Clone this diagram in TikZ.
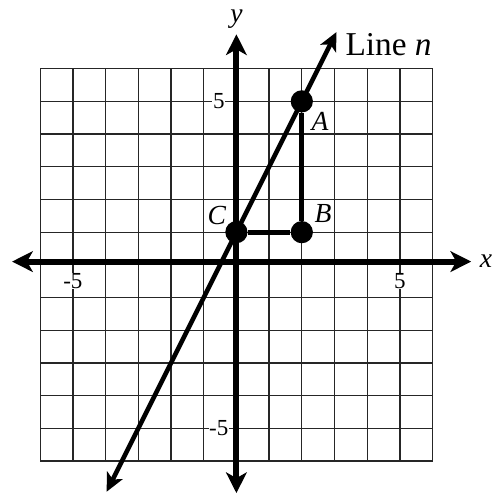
\documentclass[tikz,border=0pt]{standalone}
\usepackage{fontspec}
\setmainfont{Liberation Serif}
\usetikzlibrary{arrows.meta,positioning}

\begin{document}
\begin{tikzpicture}[
  gridline/.style={draw=black!85, line width=1.1pt},
  axis/.style={draw, line width=5.2pt,
               {Stealth[length=18pt,width=18pt,inset=5pt]}-{Stealth[length=18pt,width=18pt,inset=5pt]}},
  linen/.style={draw, line width=4pt,
                {Stealth[length=16pt,width=15pt,inset=4pt]}-{Stealth[length=16pt,width=15pt,inset=4pt]}},
  seg/.style={draw, line width=4.2pt},
  dot/.style={circle, fill, inner sep=0pt, minimum size=0.68cm},
  lab/.style={font=\fontsize{24}{26}\selectfont\itshape, inner sep=0pt},
  tick/.style={font=\fontsize{20}{22}\selectfont, fill=white, inner sep=0.5pt}
]
\useasboundingbox (-7.23,-7.03) rectangle (8.0,8.10);
\draw[gridline] (-6,-6) grid (6,6);
% axes
\coordinate (xl) at (-6.86,0.1);
\coordinate (xr) at (7.18,0.1);
\coordinate (yb) at (0,-6.98);
\coordinate (yt) at (0,7.05);
\draw[axis] (xl) -- (xr);
\draw[axis] (yb) -- (yt);
\node[lab] (xlab) at (7.63,0.12) {x};
\node[lab] (ylab) at (0,7.52) {y};
% ticks
\node[tick] (xm5) at (-5,-0.5) {-5};
\node[tick] (xp5) at (5,-0.5) {5};
\node[tick] (yp5) at (-0.54,5) {5};
\node[tick] (ym5) at (-0.54,-5) {-5};
% line n
\coordinate (nb) at (-3.97,-6.94);
\coordinate (nt) at (3.06,7.12);
\draw[linen] (nb) -- (nt);
\node[font=\fontsize{29}{31}\selectfont, anchor=west, inner sep=0pt] (nlab) at (3.33,6.75) {Line \textit{n}};
% points
\node[dot] (C) at (0,1) {};
\node[dot] (B) at (2,1) {};
\node[dot] (A) at (2,5) {};
\draw[seg] (C) -- (B) -- (A);
\node[lab] (Alab) at (2.56,4.40) {A};
\node[lab] (Blab) at (2.65,1.56) {B};
\node[lab] (Clab) at (-0.6,1.50) {C};
\end{tikzpicture}
\end{document}
